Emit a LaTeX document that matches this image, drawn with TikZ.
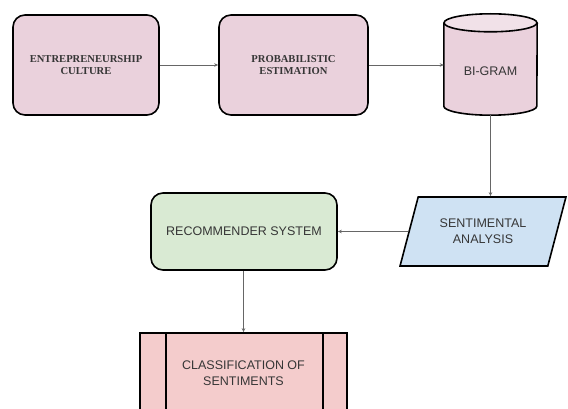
\documentclass[tikz,border=0pt]{standalone}
\usepackage{fontspec}
\setmainfont{Liberation Serif}
\newfontfamily\arialfam{Liberation Sans}
\usepackage{tikz}
\usetikzlibrary{arrows.meta}
\usetikzlibrary{shapes.geometric}
\usepackage{xcolor}
\definecolor{pinkbox}{HTML}{EAD1DC}
\definecolor{pinktop}{HTML}{F1E1E8}
\definecolor{greenbox}{HTML}{D9EAD3}
\definecolor{bluebox}{HTML}{CFE2F3}
\definecolor{redbox}{HTML}{F4CCCC}
\definecolor{inkgray}{HTML}{363636}
\definecolor{wiregray}{HTML}{666666}

\begin{document}
\begin{tikzpicture}[x=1pt, y=-1pt,
	thickline/.style = {draw=black, line width=1.6pt},
	roundbox/.style = {thickline, rounded corners=12pt, align=center, text=inkgray, inner sep=0pt},
	serifbold/.style = {font=\fontsize{10.6}{12.5}\selectfont\bfseries},
	sanstext/.style = {font=\arialfam\fontsize{12.5}{16}\selectfont, text=inkgray, align=center},
	wire/.style = {draw=wiregray, line width=0.8pt, -{Stealth[length=4pt, width=3.5pt]}}]
	\useasboundingbox (0,0) rectangle (568,409);
	\clip (0,0) rectangle (568,409);

	% top row
	\node[roundbox, serifbold, fill=pinkbox, minimum width=146pt, minimum height=100pt] (entre) at (86,65) {ENTREPRENEURSHIP\\CULTURE};
	\node[roundbox, serifbold, fill=pinkbox, minimum width=149pt, minimum height=100pt] (prob) at (293.5,65) {PROBABILISTIC\\ESTIMATION};
	\node[minimum width=93pt, minimum height=101pt, inner sep=0pt] (bigram) at (490.5,64.5) {};
	\fill[pinkbox] ([yshift=-9pt]bigram.north west) -- ([yshift=9pt]bigram.south west)
		arc[start angle=180, end angle=360, x radius=46.5pt, y radius=9pt] -- ([yshift=-9pt]bigram.north east) -- cycle;
	\draw[thickline] ([yshift=-9pt]bigram.north west) -- ([yshift=9pt]bigram.south west)
		arc[start angle=180, end angle=360, x radius=46.5pt, y radius=9pt] -- ([yshift=-9pt]bigram.north east);
	\draw[thickline, fill=pinktop] ([yshift=-9pt]bigram.north) ellipse[x radius=46.5pt, y radius=9pt];
	\node[sanstext] (bigramlbl) at ([yshift=-7pt]bigram.center) {BI-GRAM};

	% middle row
	\node[trapezium, trapezium stretches=true, trapezium left angle=64, trapezium right angle=116,
		thickline, fill=bluebox, sanstext, minimum width=166pt, minimum height=69pt, inner sep=0pt] (senti) at (483,231.5) {SENTIMENTAL\\ANALYSIS};
	\node[roundbox, sanstext, fill=greenbox, minimum width=186pt, minimum height=77pt] (recom) at (244,231.5) {RECOMMENDER SYSTEM};

	% bottom
	\node[thickline, sanstext, fill=redbox, minimum width=207pt, minimum height=80pt, inner sep=0pt] (classif) at (243.5,373) {CLASSIFICATION OF\\SENTIMENTS};
	\draw[thickline] ([xshift=27pt]classif.north west) -- ([xshift=27pt]classif.south west);
	\draw[thickline] ([xshift=-25pt]classif.north east) -- ([xshift=-25pt]classif.south east);

	% connectors
	\draw[wire] (entre) -- (prob);
	\draw[wire] (prob.east) -- (prob.east -| bigram.west);
	\draw[wire] (bigram.south) -- (bigram.south |- senti.north);
	\draw[wire] (senti) -- (recom);
	\draw[wire] (recom.south -| classif.north) -- (classif.north);
\end{tikzpicture}
\end{document}
